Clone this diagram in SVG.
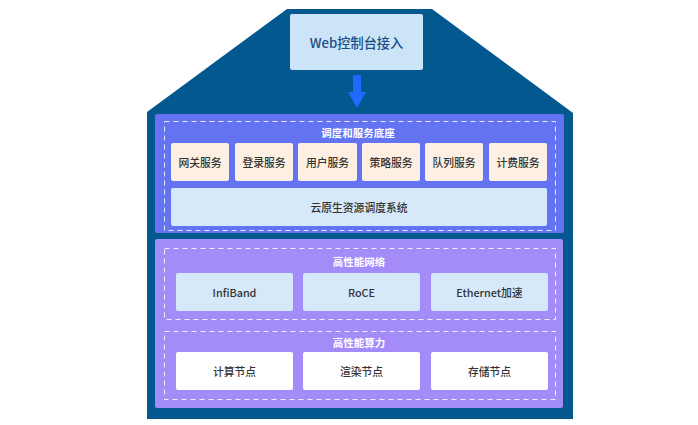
<svg xmlns="http://www.w3.org/2000/svg" width="698" height="425" viewBox="0 0 698 425">
<style>
text{font-family:"Noto Sans CJK SC","Noto Sans",sans-serif;text-anchor:middle;dominant-baseline:central}
.lbl{font-size:10.8px;fill:#333;font-weight:500}
.ttl{font-size:10.5px;fill:#fff;font-weight:700}
.dash{fill:none;stroke:#fff;stroke-opacity:0.85;stroke-width:1;stroke-dasharray:5 4}
.svc{fill:#FDF0E3}
.blue{fill:#D5E9FA}
.white{fill:#fff}
</style>
<rect width="698" height="425" fill="#fff"/>
<g id="house">
<path d="M287 9 L432 9 L573 113 L573 419 L147 419 L147 112 Z" fill="#03588F"/>
</g>
<g id="web">
<rect x="290" y="14" width="133" height="56" rx="2" fill="#CCE4F7"/>
<text x="356.5" y="42" style="font-size:13.2px;fill:#1B4F86;font-weight:500">Web控制台接入</text>
</g>
<g id="connectors">
<path d="M353 75 H361 V92 H366 L357 108 L348 92 H353 Z" fill="#1E6BFF"/>
</g>
<g id="scheduling">
<rect x="155" y="114" width="409" height="119" rx="2" fill="#6373F2"/>
<rect class="dash" x="164.5" y="121.5" width="391" height="109"/>
<text class="ttl" x="358" y="132">调度和服务底座</text>
</g>
<g id="svc1"><rect class="svc" x="171" y="143" width="58" height="38" rx="2"/><text class="lbl" x="200" y="162">网关服务</text></g>
<g id="svc2"><rect class="svc" x="235" y="143" width="58" height="38" rx="2"/><text class="lbl" x="264" y="162">登录服务</text></g>
<g id="svc3"><rect class="svc" x="298" y="143" width="59" height="38" rx="2"/><text class="lbl" x="327.5" y="162">用户服务</text></g>
<g id="svc4"><rect class="svc" x="362" y="143" width="58" height="38" rx="2"/><text class="lbl" x="391" y="162">策略服务</text></g>
<g id="svc5"><rect class="svc" x="425" y="143" width="58" height="38" rx="2"/><text class="lbl" x="454" y="162">队列服务</text></g>
<g id="svc6"><rect class="svc" x="489" y="143" width="58" height="38" rx="2"/><text class="lbl" x="518" y="162">计费服务</text></g>
<g id="cloud"><rect class="blue" x="171" y="188" width="376" height="38" rx="2"/><text class="lbl" x="359" y="207">云原生资源调度系统</text></g>
<g id="hpc">
<rect x="155" y="239" width="408" height="169" rx="2" fill="#A38CF8"/>
<rect class="dash" x="164.5" y="248.5" width="391" height="71"/>
<text class="ttl" x="359" y="261">高性能网络</text>
<rect class="dash" x="164.5" y="331.5" width="391" height="68"/>
<text class="ttl" x="359" y="342">高性能算力</text>
</g>
<g id="ib"><rect class="blue" x="176" y="273" width="117" height="38" rx="2"/><text class="lbl" x="234.5" y="292">InfiBand</text></g>
<g id="roce"><rect class="blue" x="303" y="273" width="117" height="38" rx="2"/><text class="lbl" x="361.5" y="292">RoCE</text></g>
<g id="eth"><rect class="blue" x="431" y="273" width="117" height="38" rx="2"/><text class="lbl" x="489.5" y="292">Ethernet加速</text></g>
<g id="compute"><rect class="white" x="176" y="352" width="117" height="38" rx="2"/><text class="lbl" x="234.5" y="371">计算节点</text></g>
<g id="render"><rect class="white" x="303" y="352" width="117" height="38" rx="2"/><text class="lbl" x="361.5" y="371">渲染节点</text></g>
<g id="storage"><rect class="white" x="431" y="352" width="117" height="38" rx="2"/><text class="lbl" x="489.5" y="371">存储节点</text></g>
</svg>
